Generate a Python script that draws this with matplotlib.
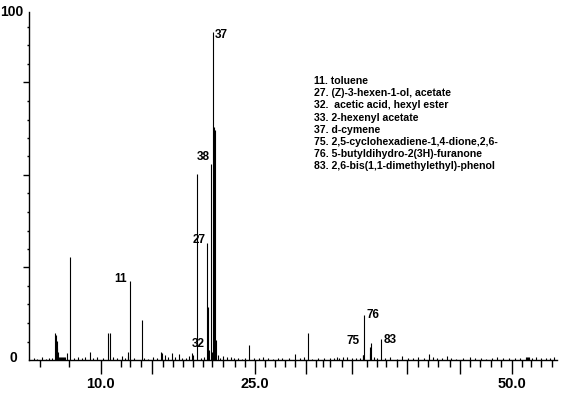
import matplotlib.pyplot as plt

# retention time (min) and relative abundance (%) of the labelled / visible peaks
peak_time = [5.57, 5.63, 5.72, 5.80, 5.87, 5.96, 6.06, 6.16, 6.26, 6.35, 6.45, 6.55,
             6.71, 7.03, 8.93, 10.76, 10.88, 12.63, 12.70, 12.82, 13.99, 15.86, 15.98,
             16.93, 17.64, 18.87, 19.36, 20.31, 20.43, 20.51, 20.70, 20.80, 20.94,
             21.03, 21.10, 21.19, 24.47, 28.92, 30.21, 32.98, 33.62, 35.49, 35.58,
             35.66, 36.17, 36.26, 36.36, 37.29, 41.98, 43.68, 51.4, 51.5, 51.6, 51.7]
peak_height = [7.8, 7.3, 5.5, 3.5, 2.4, 0.8, 0.8, 0.8, 0.8, 0.8, 0.8, 0.8,
               2.0, 29.7, 2.4, 7.8, 7.8, 1.2, 2.4, 22.8, 11.5, 2.4, 2.0,
               1.9, 1.7, 2.0, 53.4, 33.6, 15.2, 3.0, 56.3, 2.4, 94.3,
               67.0, 66.0, 5.7, 4.3, 1.7, 7.8, 1.0, 1.0, 1.4, 1.4,
               12.9, 2.0, 3.8, 5.0, 5.9, 1.7, 1.2, 0.8, 0.8, 0.8, 0.8]

# small baseline peaks
noise_time = [3.5, 3.8, 4.3, 4.7, 5.0, 5.3, 7.4, 7.8, 8.2, 8.5, 9.3, 9.7, 10.2, 11.2,
              11.6, 12.1, 12.4, 13.3, 14.2, 14.6, 15.1, 15.5, 16.3, 16.6, 17.2, 17.9,
              18.3, 18.6, 19.0, 19.8, 20.1, 21.4, 21.6, 21.9, 22.3, 22.7, 23.0, 23.4,
              23.8, 24.1, 24.9, 25.4, 25.8, 26.3, 26.8, 27.3, 27.7, 28.3, 29.4, 29.8,
              30.6, 31.2, 31.7, 32.3, 32.7, 33.2, 34.0, 34.5, 34.9, 35.2, 36.6, 36.9,
              37.7, 38.2, 38.8, 39.3, 39.9, 40.4, 40.9, 41.5, 42.3, 42.7, 43.2, 44.1,
              44.6, 45.3, 45.9, 46.4, 47.0, 47.5, 48.1, 48.6, 49.2, 49.7, 50.3, 50.8,
              52.0, 52.4, 52.9, 53.3, 53.7, 54.1]
noise_height = [0.5, 0.4, 0.9, 0.4, 0.6, 0.5, 0.6, 0.9, 0.5, 0.8, 0.6, 0.9, 0.6, 0.8,
                0.5, 1.2, 0.6, 0.5, 0.7, 0.4, 0.8, 0.6, 1.5, 0.8, 0.9, 0.6,
                0.7, 1.1, 1.3, 0.7, 1.0, 1.3, 0.7, 1.1, 0.8, 0.9, 0.5, 0.6,
                0.4, 0.7, 0.5, 0.6, 0.8, 0.5, 0.4, 0.6, 0.5, 0.7, 0.5, 0.9,
                0.4, 0.6, 0.5, 0.7, 0.5, 0.6, 0.8, 0.5, 0.7, 0.6, 0.9, 0.7,
                0.5, 0.8, 0.4, 1.1, 0.5, 0.6, 0.8, 0.5, 0.9, 0.6, 0.5, 0.7,
                0.4, 0.6, 0.8, 0.5, 0.7, 0.4, 0.6, 0.9, 0.5, 0.7, 0.6, 0.5,
                0.6, 0.8, 0.5, 0.7, 0.6, 0.9]

# peak number labels: text, time, height, alignment
label_text = ['11', '27', '38', '37', '32', '75', '76', '83']
label_time = [12.55, 20.21, 20.60, 21.14, 20.17, 35.24, 35.92, 37.50]
label_height = [23.3, 34.5, 58.3, 93.4, 4.6, 5.5, 12.9, 5.7]
label_ha = ['right', 'right', 'right', 'left', 'right', 'right', 'left', 'left']

legend_lines = ['11. toluene',
                '27. (Z)-3-hexen-1-ol, acetate',
                '32.  acetic acid, hexyl ester',
                '33. 2-hexenyl acetate',
                '37. d-cymene',
                '75. 2,5-cyclohexadiene-1,4-dione,2,6-',
                '76. 5-butyldihydro-2(3H)-furanone',
                '83. 2,6-bis(1,1-dimethylethyl)-phenol']

x_major = [10, 15, 25, 30, 34.5, 39.8, 45, 50]
x_major_labels = ['10.0', '', '25.0', '', '', '', '', '50.0']
x_minor = [4.1, 6.9, 12.0, 12.9, 13.9, 16.1, 17.05, 18.0, 19.0, 20.0, 20.8, 21.9,
           23.1, 24.1, 26.0, 27.0, 27.9, 28.9, 31.0, 31.6, 32.3, 33.5, 35.9, 36.9,
           37.8, 38.8, 40.9, 41.9, 42.8, 44.0, 45.9, 46.9, 48.0, 49.0, 51.0, 51.9,
           52.9, 53.9]
y_major = [26.6, 53.2, 79.8]
y_minor = [5.3, 10.6, 16.0, 21.3, 31.9, 37.2, 42.6, 47.9, 58.5, 63.8, 69.1, 74.5,
           85.1, 90.4, 95.7]

W, H = 565, 395
fig = plt.figure(figsize=(W / 100, H / 100), dpi=100)
ax = fig.add_axes([29 / W, 35 / H, (557 - 29) / W, 348 / H])

ax.vlines(noise_time, 0, noise_height, color='black', lw=0.8)
ax.vlines(peak_time, 0, peak_height, color='black', lw=0.8)

for txt, t, h, ha in zip(label_text, label_time, label_height, label_ha):
    ax.text(t, h, txt, ha=ha, va='center', fontsize=8.5, fontweight='bold',
            family='Liberation Sans')

ax.set_xlim(3.04, 54.41)
ax.set_ylim(0, 100)
for s in ['top', 'right']:
    ax.spines[s].set_visible(False)
ax.spines['left'].set_linewidth(1)
ax.spines['bottom'].set_linewidth(1)

ax.set_xticks(x_major)
ax.set_xticklabels(x_major_labels)
ax.set_xticks(x_minor, minor=True)
ax.tick_params(axis='x', which='major', length=10, width=1, pad=2, labelsize=10.5)
ax.tick_params(axis='x', which='minor', length=5, width=1)
for lab in ax.get_xticklabels():
    lab.set_fontweight('bold')
    lab.set_family('Liberation Sans')

ax.set_yticks(y_major)
ax.set_yticklabels([])
ax.set_yticks(y_minor, minor=True)
ax.tick_params(axis='y', which='major', length=4, width=1)
ax.tick_params(axis='y', which='minor', length=1.5, width=1)

ax.text(-12 / 528, 0.005, '0', transform=ax.transAxes, ha='right', va='center',
        fontsize=10, fontweight='bold', family='Liberation Sans')
ax.text(-6 / 528, 1.0, '100', transform=ax.transAxes, ha='right', va='center',
        fontsize=10, fontweight='bold', family='Liberation Sans')

for i, line in enumerate(legend_lines):
    fig.text(314 / W, 1 - (81 + i * 12.2) / H, line, ha='left', va='center',
             fontsize=7.6, fontweight='bold', family='Liberation Sans')

fig.savefig('out.png', dpi=100)
